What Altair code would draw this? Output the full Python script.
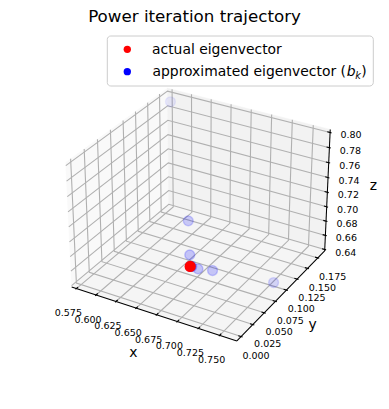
import numpy as np
import pandas as pd
import altair as alt

# ---------------- data ----------------
# power-iteration iterates b_k (unit vectors)
iter_x = [0.580, 0.680, 0.757, 0.721, 0.701, 0.713, 0.7085, 0.7080, 0.7078]
iter_y = [0.180, 0.048, 0.095, 0.027, 0.015, 0.011, 0.0062, 0.0050, 0.0046]
iter_z = [0.794, 0.732, 0.647, 0.692, 0.713, 0.701, 0.7055, 0.7061, 0.7063]
# actual eigenvector
true_x = [0.7077]
true_y = [0.0044]
true_z = [0.7063]

x_ticks = [0.575, 0.600, 0.625, 0.650, 0.675, 0.700, 0.725, 0.750]
y_ticks = [0.000, 0.025, 0.050, 0.075, 0.100, 0.125, 0.150, 0.175]
z_ticks = [0.64, 0.66, 0.68, 0.70, 0.72, 0.74, 0.76, 0.78, 0.80]
x_tick_labels = [f"{t:.3f}" for t in x_ticks]
y_tick_labels = [f"{t:.3f}" for t in y_ticks]
z_tick_labels = [f"{t:.2f}" for t in z_ticks]

x_lim = [0.569, 0.770]
y_lim = [-0.009, 0.192]
z_lim = [0.638, 0.804]

title_text = "Power iteration trajectory"
legend_labels = ["actual eigenvector", "approximated eigenvector ("]

# ---------------- 3D view (matplotlib-like perspective) ----------------
ELEV, AZIM, DIST = 30.0, -60.0, 10.0
BOX = np.array([4.0, 4.0, 3.0])
BOX = BOX * 1.8294640721620434 * 25 / 24 / np.linalg.norm(BOX)
SCALE, CX, CY = 159.0, 200.5, 208.5   # page pixels
W, H = 373, 393

e, a = np.radians(ELEV), np.radians(AZIM)
W_DIR = np.array([np.cos(e) * np.cos(a), np.cos(e) * np.sin(a), np.sin(e)])
U_DIR = np.array([-np.sin(a), np.cos(a), 0.0])
V_DIR = np.cross(W_DIR, U_DIR)


def project(xs, ys, zs):
    pts = np.vstack([
        (np.asarray(xs, float) - x_lim[0]) / (x_lim[1] - x_lim[0]) - 0.5,
        (np.asarray(ys, float) - y_lim[0]) / (y_lim[1] - y_lim[0]) - 0.5,
        (np.asarray(zs, float) - z_lim[0]) / (z_lim[1] - z_lim[0]) - 0.5,
    ]) * BOX[:, None]
    du, dv, dw = U_DIR @ pts, V_DIR @ pts, W_DIR @ pts
    k = DIST / (DIST - dw)
    return du * k, dv * k, dw


X0, X1 = x_lim
Y0, Y1 = y_lim
Z0, Z1 = z_lim
XR, YR = X1 - X0, Y1 - Y0

rows = []


def add_poly(kind, gid, pts, fill=None):
    arr = np.array(pts, float)
    px, py, _ = project(arr[:, 0], arr[:, 1], arr[:, 2])
    for i, (u, v) in enumerate(zip(px, py)):
        rows.append(dict(kind=kind, gid=gid, order=i, px=u, py=v, fill=fill))


# panes
add_poly("pane", "px", [(X0, Y0, Z0), (X0, Y1, Z0), (X0, Y1, Z1), (X0, Y0, Z1), (X0, Y0, Z0)], "#f9f9f9")
add_poly("pane", "py", [(X0, Y1, Z0), (X1, Y1, Z0), (X1, Y1, Z1), (X0, Y1, Z1), (X0, Y1, Z0)], "#f2f2f2")
add_poly("pane", "pz", [(X0, Y0, Z0), (X1, Y0, Z0), (X1, Y1, Z0), (X0, Y1, Z0), (X0, Y0, Z0)], "#f5f5f5")
# grid
for t in x_ticks:
    add_poly("grid", f"gx{t}", [(t, Y0, Z0), (t, Y1, Z0), (t, Y1, Z1)])
for t in y_ticks:
    add_poly("grid", f"gy{t}", [(X1, t, Z0), (X0, t, Z0), (X0, t, Z1)])
for t in z_ticks:
    add_poly("grid", f"gz{t}", [(X0, Y0, t), (X0, Y1, t), (X1, Y1, t)])
# axis lines
add_poly("axis", "ax", [(X0, Y0, Z0), (X1, Y0, Z0)])
add_poly("axis", "ay", [(X1, Y0, Z0), (X1, Y1, Z0)])
add_poly("axis", "az", [(X1, Y1, Z0), (X1, Y1, Z1)])
# ticks
for t in x_ticks:
    add_poly("tick", f"tx{t}", [(t, Y0 - 0.1 * YR / 12, Z0), (t, Y0 + 0.2 * YR / 12, Z0)])
for t in y_ticks:
    add_poly("tick", f"ty{t}", [(X1 + 0.1 * XR / 12, t, Z0), (X1 - 0.2 * XR / 12, t, Z0)])
for t in z_ticks:
    add_poly("tick", f"tz{t}", [(X1 + 0.1 * XR / 12, Y1, t), (X1 - 0.2 * XR / 12, Y1, t)])

lines = pd.DataFrame(rows)

# tick labels
def label_df(xs, ys, zs, labels):
    px, py, _ = project(xs, ys, zs)
    return pd.DataFrame(dict(px=px, py=py, label=labels))


xl = label_df(x_ticks, [Y0] * len(x_ticks), [Z0] * len(x_ticks), x_tick_labels)
yl = label_df([X1] * len(y_ticks), y_ticks, [Z0] * len(y_ticks), y_tick_labels)
zl = label_df([X1] * len(z_ticks), [Y1] * len(z_ticks), z_ticks, z_tick_labels)
at_x = label_df([(X0 + X1) / 2], [Y0], [Z0], ["x"])
at_y = label_df([X1], [(Y0 + Y1) / 2], [Z0], ["y"])
at_z = label_df([X1], [Y1], [(Z0 + Z1) / 2], ["z"])

# points
bpx, bpy, bdw = project(iter_x, iter_y, iter_z)
blue = pd.DataFrame(dict(px=bpx, py=bpy, dw=bdw))
BASE_ALPHA = 0.3
blue["alpha"] = BASE_ALPHA * (1 - 0.7 * (bdw.max() - bdw) / (bdw.max() - bdw.min()))
blue = blue.sort_values("dw").reset_index(drop=True)
blue["ord"] = np.arange(len(blue))
rpx, rpy, _ = project(true_x, true_y, true_z)
red = pd.DataFrame(dict(px=rpx, py=rpy))

# ---------------- chart ----------------
xdom = [(8 - CX) / SCALE, (8 + W - CX) / SCALE]
ydom = [(CY - 8 - H) / SCALE, (CY - 8) / SCALE]
X = alt.X("px:Q", scale=alt.Scale(domain=xdom, nice=False, zero=False), axis=None)
Y = alt.Y("py:Q", scale=alt.Scale(domain=ydom, nice=False, zero=False), axis=None)
FONT = "DejaVu Sans"

base = alt.Chart(lines)
panes = base.transform_filter(alt.datum.kind == "pane").mark_line(
    filled=True, strokeWidth=0.5
).encode(x=X, y=Y, detail="gid:N", order="order:Q",
         color=alt.Color("fill:N", scale=None), stroke=alt.Stroke("fill:N", scale=None))
grid = base.transform_filter(alt.datum.kind == "grid").mark_line(
    color="#b0b0b0", strokeWidth=1.1
).encode(x=X, y=Y, detail="gid:N", order="order:Q")
axes_l = base.transform_filter(alt.datum.kind == "axis").mark_line(
    color="black", strokeWidth=1.05
).encode(x=X, y=Y, detail="gid:N", order="order:Q")
ticks = base.transform_filter(alt.datum.kind == "tick").mark_line(
    color="black", strokeWidth=1.1
).encode(x=X, y=Y, detail="gid:N", order="order:Q")

TL = dict(font=FONT, fontSize=9.5, color="black", align="center", baseline="alphabetic")
xlab = alt.Chart(xl).mark_text(dx=-8, dy=27.8, **TL).encode(x=X, y=Y, text="label:N")
ylab = alt.Chart(yl).mark_text(dx=14.8, dy=22.3, **TL).encode(x=X, y=Y, text="label:N")
zlab = alt.Chart(zl).mark_text(dx=21, dy=6.0, **TL).encode(x=X, y=Y, text="label:N")

AT = dict(font=FONT, fontSize=13.9, color="black", align="center", baseline="alphabetic")
xt = alt.Chart(at_x).mark_text(dx=-18.8, dy=43.8, **AT).encode(x=X, y=Y, text="label:N")
yt = alt.Chart(at_y).mark_text(dx=29.9, dy=35.0, **AT).encode(x=X, y=Y, text="label:N")
zt = alt.Chart(at_z).mark_text(dx=45.9, dy=-1.0, **AT).encode(x=X, y=Y, text="label:N")

blue_pts = alt.Chart(blue).mark_point(
    filled=True, fill="blue", stroke="blue", strokeWidth=1.4, size=97, shape="circle"
).encode(x=X, y=Y, order="ord:Q",
         fillOpacity=alt.FillOpacity("alpha:Q", scale=None),
         strokeOpacity=alt.StrokeOpacity("alpha:Q", scale=None))
red_pts = alt.Chart(red).mark_point(
    filled=True, fill="red", stroke="red", strokeWidth=1.4, size=97, shape="circle", opacity=1
).encode(x=X, y=Y)

one = pd.DataFrame({"a": [0]})
leg_box = alt.Chart(one).mark_rect(
    fill="white", fillOpacity=0.8, stroke="#cccccc", strokeWidth=1, cornerRadius=3.5
).encode(x=alt.value(99.3), x2=alt.value(365.3), y=alt.value(28), y2=alt.value(78))
leg_red = alt.Chart(one).mark_point(filled=True, color="red", size=54, shape="circle", opacity=1).encode(
    x=alt.value(119.3), y=alt.value(41.3))
leg_blue = alt.Chart(one).mark_point(filled=True, color="blue", size=54, shape="circle", opacity=1).encode(
    x=alt.value(119.3), y=alt.value(63.7))
LT = dict(font=FONT, fontSize=13.9, color="black", baseline="alphabetic", align="left")
leg_t1 = alt.Chart(one).mark_text(text=legend_labels[0], **LT).encode(x=alt.value(144.0), y=alt.value(45.5))
leg_t2 = alt.Chart(one).mark_text(text=legend_labels[1], **LT).encode(x=alt.value(144.5), y=alt.value(68.3))
leg_b = alt.Chart(one).mark_text(text="b", fontStyle="italic", **LT).encode(x=alt.value(338.8), y=alt.value(68.3))
LK = dict(LT, fontSize=9.7)
leg_k = alt.Chart(one).mark_text(text="k", fontStyle="italic", **LK).encode(x=alt.value(347.2), y=alt.value(71.0))
leg_p = alt.Chart(one).mark_text(text=")", **LT).encode(x=alt.value(353.2), y=alt.value(68.3))

title = alt.Chart(one).mark_text(
    text=title_text, font=FONT, fontSize=16.7, color="black", align="center", baseline="alphabetic"
).encode(x=alt.value(186.5), y=alt.value(13.8))

chart = alt.layer(
    panes, grid, axes_l, ticks, xlab, ylab, zlab, xt, yt, zt,
    blue_pts, red_pts, leg_box, leg_red, leg_blue, leg_t1, leg_t2, leg_b, leg_k, leg_p, title
).properties(
    width=W, height=H, padding=0, autosize=alt.AutoSizeParams(type="none"), background="white"
).configure_view(stroke=None)

chart.save("out.html", embed_options={"renderer": "svg", "actions": False})
